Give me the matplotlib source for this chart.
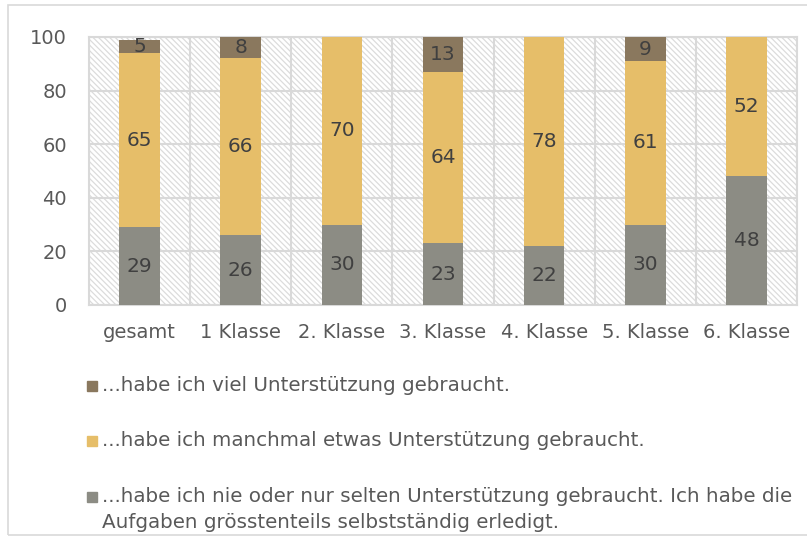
import matplotlib
matplotlib.use('Agg')
import matplotlib.pyplot as plt
from matplotlib.patches import Rectangle
import numpy as np

plt.rcParams['font.family'] = ['DejaVu Sans']
plt.rcParams['hatch.linewidth'] = 0.9

categories = ['gesamt', '1 Klasse', '2. Klasse', '3. Klasse', '4. Klasse', '5. Klasse', '6. Klasse']
nie_selten = [29, 26, 30, 23, 22, 30, 48]
manchmal = [65, 66, 70, 64, 78, 61, 52]
viel = [5, 8, 0, 13, 0, 9, 0]

labels = [
    '...habe ich viel Unterstützung gebraucht.',
    '...habe ich manchmal etwas Unterstützung gebraucht.',
    '...habe ich nie oder nur selten Unterstützung gebraucht. Ich habe die\nAufgaben grösstenteils selbstständig erledigt.',
]
colors = ['#8A785E', '#E6BE69', '#8C8C84']

TEXT = '#595959'
GRID = '#D9D9D9'

fig = plt.figure(figsize=(8.07, 5.39), dpi=100)
ax = fig.add_axes([89 / 807, 1 - 305 / 539, 708 / 807, 268 / 539])

# hatched plot background
bg = Rectangle((0, 0), 1, 1, transform=ax.transAxes, facecolor='white',
               edgecolor='#DCDCDC', hatch='\\' * 6, lw=0, zorder=0)
ax.add_patch(bg)
ax.patch.set_visible(False)

x = np.arange(len(categories))
w = 0.4
b1 = ax.bar(x, nie_selten, w, color=colors[2], zorder=3)
b2 = ax.bar(x, manchmal, w, bottom=nie_selten, color=colors[1], zorder=3)
bottom3 = np.array(nie_selten) + np.array(manchmal)
b3 = ax.bar(x, viel, w, bottom=bottom3, color=colors[0], zorder=3)

for bars, vals in [(b1, nie_selten), (b2, manchmal), (b3, viel)]:
    for bar, v in zip(bars, vals):
        if v == 0:
            continue
        ax.text(bar.get_x() + bar.get_width() / 2, bar.get_y() + bar.get_height() / 2,
                str(v), ha='center', va='center', fontsize=14.5, color='#404040', zorder=4)

ax.set_xlim(-0.5, len(categories) - 0.5)
ax.set_ylim(0, 100)
ax.set_yticks(range(0, 101, 20))
ax.set_xticks(x)
ax.set_xticklabels(categories)
ax.set_xticks(np.arange(-0.5, len(categories), 1), minor=True)
ax.tick_params(axis='both', which='both', length=0, labelsize=14, colors=TEXT)
ax.tick_params(axis='x', pad=13)
ax.tick_params(axis='y', pad=16)
ax.grid(axis='y', which='major', color=GRID, lw=1.5, zorder=1)
ax.grid(axis='x', which='minor', color=GRID, lw=1.5, zorder=1)
ax.grid(axis='x', which='major', visible=False)
ax.set_axisbelow(True)
for s in ax.spines.values():
    s.set_color(GRID)
    s.set_linewidth(1.5)

# outer chart border
fig.add_artist(Rectangle((8 / 807, 1 - 535 / 539), 1.2, 530 / 539, transform=fig.transFigure,
                         fill=False, edgecolor=GRID, lw=1.2))

# legend drawn below the chart
legend_y = [386, 441, 497]
for lab, col, yy in zip(labels, colors, legend_y):
    fig.add_artist(Rectangle((87 / 807, 1 - (yy + 5) / 539), 10 / 807, 10 / 539,
                             transform=fig.transFigure, color=col))
    fig.text(102 / 807, 1 - (yy - 10) / 539, lab, fontsize=14.3, color=TEXT,
             ha='left', va='top', linespacing=1.45)

fig.savefig('out.png', dpi=100)
